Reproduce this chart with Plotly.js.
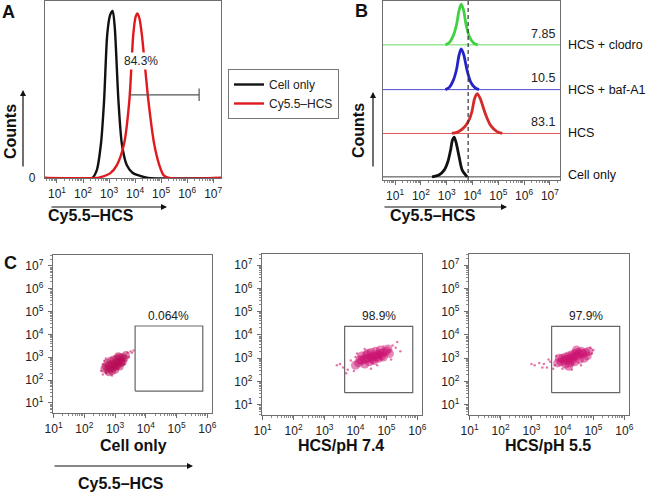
<!DOCTYPE html>
<html><head><meta charset="utf-8">
<script src="https://cdn.plot.ly/plotly-3.0.1.min.js"></script>
<style>html,body{margin:0;padding:0;background:#fff}</style>
</head><body><div id="chart" style="width:647px;height:493px"></div>
<script>
// ---------- DATA (intensities as log10 exponents) ----------
const decadeTicks = [1,2,3,4,5,6,7];
const decadeText = ['10<sup>1</sup>','10<sup>2</sup>','10<sup>3</sup>','10<sup>4</sup>','10<sup>5</sup>','10<sup>6</sup>','10<sup>7</sup>'];

// Panel A histograms
const aCellX = [0.54, 2.35, 2.53, 2.69, 2.81, 2.93, 3.04, 3.14, 3.22, 3.36, 3.49, 3.68, 3.9, 4.19, 4.5, 7.3];
const aCellY = [0, 0, 4.5, 19.5, 43.8, 81, 92, 94.4, 85, 43.8, 19.5, 7.3, 3, 1.2, 0, 0];
const aHcsX  = [0.54, 2.5, 2.65, 3.04, 3.3, 3.58, 3.78, 3.93, 4.02, 4.09, 4.17, 4.26, 4.51, 4.73, 4.93, 5.09, 5.3, 7.3];
const aHcsY  = [0, 0, 0.4, 2.6, 7.3, 19.5, 43.8, 81, 91, 93, 90, 81, 43.8, 19.5, 7.3, 1.7, 0, 0];
const aGateX = [3.8, 6.46];
const aGateY = 47;
const aGateLabel = '84.3%';

// Panel B stacked histograms
const bNames   = ['Cell only', 'HCS', 'HCS + baf-A1', 'HCS + clodro'];
const bValues  = ['', '83.1', '10.5', '7.85'];
const bOffsets = [0.07, 1.04, 2.02, 3.02];
const bColors  = ['#111111', '#d42a2a', '#2323c8', '#3fd23f'];
const bX = [
  [2.43, 2.7, 2.9, 3.05, 3.15, 3.22, 3.29, 3.37, 3.48, 3.6, 3.79],
  [3.2, 3.45, 3.7, 3.88, 3.98, 4.08, 4.18, 4.3, 4.49, 4.7, 4.95, 5.15],
  [2.95, 3.1, 3.25, 3.38, 3.47, 3.56, 3.66, 3.78, 3.92, 4.08, 4.25],
  [2.95, 3.1, 3.25, 3.38, 3.47, 3.56, 3.65, 3.75, 3.88, 4.05, 4.2]
];
const bY = [
  [0, 0.04, 0.15, 0.35, 0.6, 0.82, 0.89, 0.75, 0.45, 0.15, 0],
  [0, 0.04, 0.15, 0.32, 0.5, 0.78, 0.89, 0.78, 0.45, 0.18, 0.04, 0],
  [0, 0.05, 0.2, 0.45, 0.75, 0.91, 0.78, 0.45, 0.18, 0.05, 0],
  [0, 0.05, 0.2, 0.45, 0.75, 0.91, 0.78, 0.45, 0.18, 0.04, 0]
];
const bCut = 3.83;

// Panel C dot plots (core events and sparse events)
const c1CoreX = [2.75,2.85,2.95,3.05,2.7,2.8,2.9,3.0,3.1,3.2,2.85,2.95,3.05,3.15,3.25,3.0,3.1,3.2,2.9,3.0,3.3,3.35,2.75,2.65,3.1,2.8,3.15,3.25];
const c1CoreY = [2.45,2.5,2.55,2.6,2.6,2.65,2.7,2.75,2.8,2.85,2.85,2.9,2.95,3.0,3.0,2.65,2.7,2.75,2.4,2.45,2.95,3.1,2.75,2.5,3.05,2.35,2.6,2.8];
const c1SparseX = [2.6,2.55,2.7,3.4,3.5,3.55,2.6,3.3,2.7,2.9,3.45,2.65,3.6];
const c1SparseY = [2.25,2.4,2.3,3.2,3.25,3.2,2.7,2.7,2.95,2.2,3.0,2.85,3.3];

const c2CoreX = [4.0,4.1,4.2,4.3,4.4,4.5,4.6,4.7,4.8,4.9,5.0,4.3,4.45,4.6,4.75,4.9,4.2,4.35,4.5,4.65,4.8,5.05,4.55,4.7,4.4,4.85,5.1,4.15];
const c2CoreY = [2.7,2.8,2.9,2.95,3.0,3.05,3.1,3.15,3.2,3.25,3.3,2.75,2.85,2.9,3.0,3.05,3.1,3.15,3.25,3.3,3.35,3.4,2.95,3.05,3.2,3.1,3.2,2.95];
const c2SparseX = [3.6,3.5,3.75,3.85,3.95,4.05,5.2,5.3,5.15,4.5,4.3,4.9,3.4,5.35,4.0,4.7,5.45,3.7];
const c2SparseY = [2.6,2.75,2.5,2.9,2.45,3.2,3.55,3.45,2.95,2.55,3.4,3.5,2.7,3.7,3.05,2.7,3.3,2.35];

const c3CoreX = [3.85,3.95,4.05,4.15,4.25,4.35,4.45,4.55,4.65,4.75,4.85,4.0,4.1,4.2,4.3,4.4,4.5,4.6,4.1,4.25,4.4,4.55,4.7,4.3,3.9,4.8,4.45,4.2];
const c3CoreY = [2.8,2.85,2.9,2.95,3.0,3.05,3.1,3.15,3.2,3.25,3.3,3.0,3.05,3.1,3.15,3.2,3.25,3.3,2.75,2.8,2.85,2.95,3.0,2.9,3.0,3.1,3.35,2.65];
const c3SparseX = [3.1,3.25,3.4,3.5,3.6,3.7,3.55,3.35,3.75,4.0,4.95,5.0,4.9,4.6,3.0,3.8,4.3];
const c3SparseY = [2.7,2.8,2.75,2.6,2.85,2.55,2.95,2.6,2.7,2.55,3.2,3.35,3.45,2.7,2.75,3.1,2.5];

const cGateX = [3.65, 5.85];
const cGateY = [1.52, 4.37];
const cGateLabels = ['0.064%', '98.9%', '97.9%'];
const cTitles = ['Cell only', 'HCS/pH 7.4', 'HCS/pH 5.5'];

// ---------- BUILD ----------
const W = 647, H = 493;
const FONT = 'Liberation Sans, Arial, sans-serif';
const P = v => Math.pow(10, v);
const arrP = a => a.map(P);
const px = x => x / W;
const py = y => 1 - y / H;

const traces = [];
// Panel A
traces.push({x: arrP(aCellX), y: aCellY, xaxis: 'x', yaxis: 'y', mode: 'lines', name: 'Cell only',
  line: {color: '#111', width: 2.4, shape: 'spline', smoothing: 0.7}});
traces.push({x: arrP(aHcsX), y: aHcsY, xaxis: 'x', yaxis: 'y', mode: 'lines', name: 'Cy5.5–HCS',
  line: {color: '#e0191f', width: 2.4, shape: 'spline', smoothing: 0.7}});
traces.push({x: arrP(aGateX), y: [aGateY, aGateY], xaxis: 'x', yaxis: 'y', mode: 'lines', showlegend: false,
  line: {color: '#555', width: 1.2}});
traces.push({x: arrP([aGateX[1], aGateX[1]]), y: [aGateY - 3.5, aGateY + 3.5], xaxis: 'x', yaxis: 'y', mode: 'lines', showlegend: false,
  line: {color: '#555', width: 1.2}});

// Panel B
for (let i = 0; i < bNames.length; i++) {
  traces.push({x: arrP([0.53, 7.39]), y: [bOffsets[i], bOffsets[i]], xaxis: 'x2', yaxis: 'y2', mode: 'lines', showlegend: false,
    line: {color: bColors[i], width: 1}, opacity: 0.8});
  traces.push({x: arrP(bX[i]), y: bY[i].map(v => v + bOffsets[i]), xaxis: 'x2', yaxis: 'y2', mode: 'lines', showlegend: false,
    line: {color: bColors[i], width: 2.8, shape: 'spline', smoothing: 0.8}});
}
traces.push({x: arrP([bCut, bCut]), y: [0, 4], xaxis: 'x2', yaxis: 'y2', mode: 'lines', showlegend: false,
  line: {color: '#333', width: 1.2, dash: '4px,3px'}});

// Panel C
const cSets = [[c1CoreX, c1CoreY, c1SparseX, c1SparseY], [c2CoreX, c2CoreY, c2SparseX, c2SparseY], [c3CoreX, c3CoreY, c3SparseX, c3SparseY]];
cSets.forEach((s, k) => {
  const xa = 'x' + (k + 3), ya = 'y' + (k + 3);
  traces.push({x: arrP(s[2]), y: arrP(s[3]), xaxis: xa, yaxis: ya, mode: 'markers', showlegend: false,
    marker: {color: '#dc4a8c', size: 2.5, opacity: 0.75}});
  traces.push({x: arrP(s[0]), y: arrP(s[1]), xaxis: xa, yaxis: ya, mode: 'markers', showlegend: false,
    marker: {color: k === 0 ? '#b80a55' : '#cc1070', size: k === 0 ? 8 : 9, opacity: 0.5}});
  traces.push({x: arrP([cGateX[0], cGateX[1], cGateX[1], cGateX[0], cGateX[0]]),
    y: arrP([cGateY[0], cGateY[0], cGateY[1], cGateY[1], cGateY[0]]), xaxis: xa, yaxis: ya, mode: 'lines', showlegend: false,
    line: {color: '#666', width: 1.2}});
});

const boxLine = '#6e6e6e';
function logAxis(domain, range, anchor, labels) {
  return {domain, range, anchor, type: 'log', showline: true, mirror: true, linecolor: boxLine, linewidth: 1.2,
    showgrid: false, zeroline: false, tickmode: 'array', tickvals: decadeTicks.map(P), ticktext: decadeText,
    showticklabels: labels, ticks: 'outside', ticklen: 4, tickcolor: boxLine, tickwidth: 1,
    tickfont: {family: FONT, size: 12, color: '#222'},
    minor: {ticks: 'outside', ticklen: 2, tickcolor: '#888', dtick: 'D1', showgrid: false}};
}

const layout = {
  width: W, height: H, margin: {l: 0, r: 0, t: 0, b: 0}, paper_bgcolor: '#fff', plot_bgcolor: '#fff',
  font: {family: FONT, color: '#222'},
  showlegend: true,
  legend: {x: px(228), y: py(69), xanchor: 'left', yanchor: 'top', bordercolor: '#777', borderwidth: 1,
    font: {family: FONT, size: 12, color: '#222'}, itemwidth: 30, tracegroupgap: 0, bgcolor: '#fff'},
  xaxis: logAxis([px(45), px(221)], [0.54, 7.3], 'y', true),
  yaxis: {domain: [py(178), py(1)], range: [0, 100], anchor: 'x', showline: true, mirror: true, linecolor: boxLine, linewidth: 1.2,
    showgrid: false, zeroline: false, tickmode: 'array', tickvals: [0], ticktext: ['0'], ticks: '', ticklabelstandoff: 6,
    tickfont: {family: FONT, size: 12, color: '#222'}},
  xaxis2: logAxis([px(383), px(560)], [0.53, 7.39], 'y2', true),
  yaxis2: {domain: [py(180), py(1)], range: [0, 4], anchor: 'x2', showline: true, mirror: true, linecolor: boxLine, linewidth: 1.2,
    showgrid: false, zeroline: false, showticklabels: false, ticks: ''},
  annotations: [], shapes: []
};
const cDomX = [[53, 212], [262, 422], [469, 629]];
const cDomY = [[255, 413], [254, 415], [254, 415]];
for (let k = 0; k < 3; k++) {
  const n = k + 3;
  layout['xaxis' + n] = logAxis([px(cDomX[k][0]), px(cDomX[k][1])], [0.98, 6.15], 'y' + n, true);
  layout['xaxis' + n].tickvals = decadeTicks.slice(0, 6).map(P);
  layout['xaxis' + n].ticktext = decadeText.slice(0, 6);
  layout['yaxis' + n] = logAxis([py(cDomY[k][1]), py(cDomY[k][0])], [0.56, 7.48], 'x' + n, true);
  layout['yaxis' + n].ticklabelstandoff = 2;
}

const ann = layout.annotations;
const txt = (x, y, text, size, bold, extra) => ann.push(Object.assign({xref: 'paper', yref: 'paper', x: px(x), y: py(y),
  xanchor: 'center', yanchor: 'middle',
  text: bold ? '<b>' + text + '</b>' : text, showarrow: false, font: {family: FONT, size, color: '#111'}}, extra || {}));

// Panel letters
txt(8, 12, 'A', 18, true);
txt(361, 11, 'B', 18, true);
txt(10, 263, 'C', 18, true);

// Panel A texts
ann.push({xref: 'x', yref: 'y', x: 4.23, y: 66, xanchor: 'center', yanchor: 'middle', text: aGateLabel, showarrow: false, bgcolor: '#fff',
  font: {family: FONT, size: 12, color: '#222'}});
txt(10, 132, 'Counts', 16, true, {textangle: -90});
txt(91, 215, 'Cy5.5–HCS', 16, true);
// Panel B texts
txt(358, 131, 'Counts', 16, true, {textangle: -90});
txt(433, 215, 'Cy5.5–HCS', 16, true);
for (let i = 0; i < bNames.length; i++) {
  ann.push({xref: 'paper', yref: 'y2', x: px(566), y: bOffsets[i] + (i === 0 ? 0.04 : 0), xanchor: 'left', yanchor: 'middle',
    text: bNames[i], showarrow: false, font: {family: FONT, size: 12.5, color: '#111'}});
  if (bValues[i]) ann.push({xref: 'paper', yref: 'y2', x: px(557), y: bOffsets[i] + 0.25, xanchor: 'right', yanchor: 'middle',
    text: bValues[i], showarrow: false, font: {family: FONT, size: 12.5, color: '#222'}});
}
// Panel C texts
const cTitleX = [133, 341, 548];
for (let k = 0; k < 3; k++) {
  const n = k + 3;
  ann.push({xref: 'x' + n, yref: 'y' + n, x: 4.75, y: cGateY[1], xanchor: 'center', yanchor: 'bottom', yshift: 1, text: cGateLabels[k],
    showarrow: false, font: {family: FONT, size: 12, color: '#222'}});
  txt(cTitleX[k], 445, cTitles[k], 16, true);
}
txt(121, 483, 'Cy5.5–HCS', 16, true);

// Arrows
const arrow = (x0, y0, x1, y1) => ann.push({xref: 'paper', yref: 'paper', axref: 'pixel', ayref: 'pixel', x: px(x1), y: py(y1),
  ax: x0 - x1, ay: y0 - y1, text: '', showarrow: true, arrowhead: 2, arrowsize: 1, arrowwidth: 1.2, arrowcolor: '#111'});
arrow(23, 168, 23, 90);
arrow(373, 168, 373, 92);
arrow(50, 207, 167, 207);
arrow(383, 207, 507, 207);
arrow(53, 466, 193, 466);

Plotly.newPlot('chart', traces, layout, {displayModeBar: false, staticPlot: true});
</script></body></html>
